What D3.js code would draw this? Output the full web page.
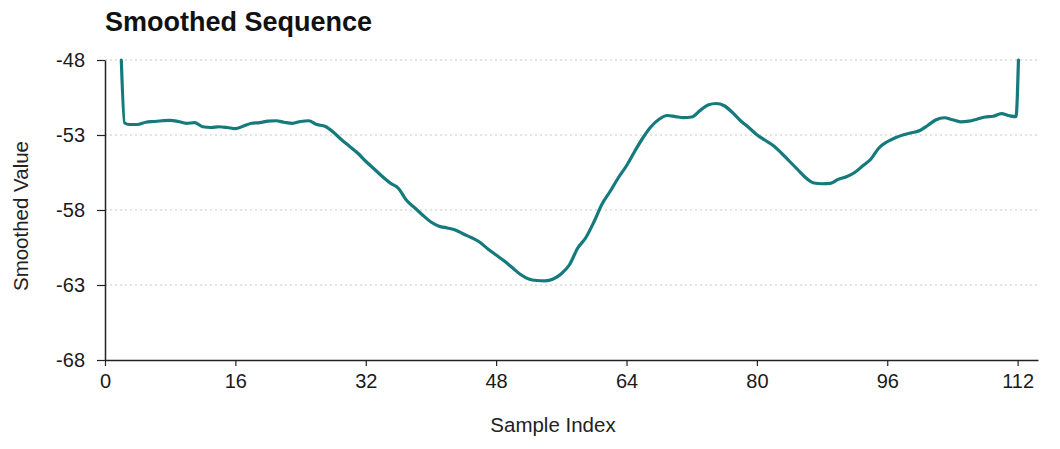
<!DOCTYPE html>
<html>
<head>
<meta charset="utf-8">
<script src="https://cdn.jsdelivr.net/npm/d3@7"></script>
<style>
  body { margin: 0; background: #fff; }
  svg { font-family: "Liberation Sans", Arial, sans-serif; }
  .chart-title { font-size: 27px; font-weight: bold; fill: #111; }
  .axis-label { font-size: 20.5px; fill: #222; }
  .tick text { font-size: 20px; fill: #1a1a1a; }
</style>
</head>
<body>
<svg width="1060" height="449"></svg>
<script>
// sample index (x) and smoothed value (y)
const sampleIndex = [
    2, 2.4, 3, 4, 5, 6, 7, 8, 9, 10, 11, 12, 13, 14, 15, 16, 17, 18, 19, 20,
    21, 22, 23, 24, 25, 26, 27, 28, 29, 30, 31, 32, 33, 34, 35, 36, 37, 38, 39, 40,
    41, 42, 43, 44, 45, 46, 47, 48, 49, 50, 51, 52, 53, 54, 55, 56, 57, 58, 59, 60,
    61, 62, 63, 64, 65, 66, 67, 68, 69, 70, 71, 72, 73, 74, 75, 76, 77, 78, 79, 80,
    81, 82, 83, 84, 85, 86, 87, 88, 89, 90, 91, 92, 93, 94, 95, 96, 97, 98, 99, 100,
    101, 102, 103, 104, 105, 106, 107, 108, 109, 110, 111, 111.8, 112.1
];
const smoothedValue = [
    -48.0, -52.2, -52.3, -52.3, -52.15, -52.1, -52.05, -52.02, -52.1, -52.22,
    -52.18, -52.45, -52.5, -52.45, -52.5, -52.58, -52.4, -52.22, -52.17, -52.08,
    -52.05, -52.15, -52.22, -52.1, -52.05, -52.3, -52.42, -52.8, -53.3, -53.75,
    -54.2, -54.75, -55.25, -55.75, -56.2, -56.55, -57.35, -57.85, -58.35, -58.8,
    -59.08, -59.2, -59.33, -59.6, -59.85, -60.15, -60.6, -61.0, -61.4, -61.85,
    -62.3, -62.6, -62.7, -62.72, -62.6, -62.25, -61.65, -60.55, -59.85, -58.8,
    -57.6, -56.75, -55.85, -55.05, -54.1, -53.2, -52.45, -51.95, -51.7, -51.77,
    -51.84, -51.8, -51.38, -51.0, -50.9, -51.05, -51.5, -52.05, -52.5, -52.98,
    -53.35, -53.7, -54.2, -54.75, -55.3, -55.85, -56.2, -56.25, -56.22, -55.95,
    -55.78, -55.5, -55.05, -54.6, -53.85, -53.45, -53.18, -52.98, -52.85, -52.7,
    -52.35, -51.98, -51.85, -51.98, -52.12, -52.08, -51.95, -51.8, -51.75, -51.57,
    -51.72, -51.78, -48.0
];
const xTicks = [0, 16, 32, 48, 64, 80, 96, 112];
const yTicks = [-68, -63, -58, -53, -48];
const gridTicks = [-63, -58, -53, -48];

const data = sampleIndex.map((x, i) => ({ x, y: smoothedValue[i] }));

const svg = d3.select('svg');
const width = +svg.attr('width');
const height = +svg.attr('height');
const chartTitle = 'Smoothed Sequence';
const xAxisLabel = 'Sample Index';
const yAxisLabel = 'Smoothed Value';

const render = data => {
    const margin = { top: 60, right: 22, bottom: 89, left: 105 };
    const innerWidth = width - margin.left - margin.right;
    const innerHeight = height - margin.top - margin.bottom;

    const xScale = d3.scaleLinear()
        .domain([0, 114.5])
        .range([0, innerWidth]);

    const yScale = d3.scaleLinear()
        .domain([-68, -48])
        .range([innerHeight, 0]);

    const g = svg.append('g')
        .attr('transform', `translate(${margin.left}, ${margin.top})`);

    // dotted grid
    g.append('g')
        .selectAll('line')
        .data(gridTicks)
        .enter()
            .append('line')
            .attr('x1', 0)
            .attr('x2', innerWidth)
            .attr('y1', d => yScale(d))
            .attr('y2', d => yScale(d))
            .attr('stroke', '#c8c8c8')
            .attr('stroke-width', 1)
            .attr('stroke-dasharray', '2,3');

    const plainFormat = d => String(d);

    const xAxisG = g.append('g')
        .attr('transform', `translate(0, ${innerHeight})`)
        .call(d3.axisBottom(xScale)
            .tickValues(xTicks)
            .tickFormat(plainFormat)
            .tickSize(6)
            .tickSizeOuter(0)
            .tickPadding(8));

    const yAxisG = g.append('g')
        .call(d3.axisLeft(yScale)
            .tickValues(yTicks)
            .tickFormat(plainFormat)
            .tickSize(8)
            .tickSizeOuter(0)
            .tickPadding(12));

    [xAxisG, yAxisG].forEach(a => {
        a.selectAll('.domain').attr('stroke', '#222').attr('stroke-width', 1.5);
        a.selectAll('.tick line').attr('stroke', '#222').attr('stroke-width', 1.2);
    });

    const line = d3.line()
        .x(d => xScale(d.x))
        .y(d => yScale(d.y))
        .curve(d3.curveMonotoneX);

    g.append('path')
        .datum(data)
        .attr('d', line)
        .attr('fill', 'none')
        .attr('stroke', '#157a7c')
        .attr('stroke-width', 3.2)
        .attr('stroke-linejoin', 'round')
        .attr('stroke-linecap', 'round');

    svg.append('text').text(chartTitle)
        .classed('chart-title', true)
        .attr('x', 105)
        .attr('y', 31);

    svg.append('text').text(xAxisLabel)
        .classed('axis-label', true)
        .attr('text-anchor', 'middle')
        .attr('x', 553)
        .attr('y', 432);

    svg.append('text').text(yAxisLabel)
        .classed('axis-label', true)
        .attr('text-anchor', 'middle')
        .attr('transform', `translate(28, 216) rotate(-90)`);
};

render(data);
</script>
</body>
</html>
